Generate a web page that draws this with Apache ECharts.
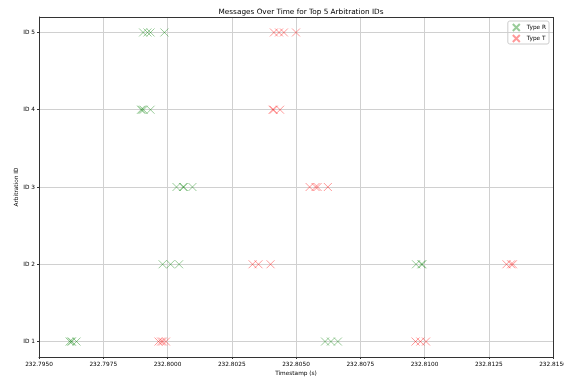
<!DOCTYPE html>
<html>
<head>
<meta charset="utf-8">
<script src="https://cdn.jsdelivr.net/npm/echarts@6/dist/echarts.min.js"></script>
<style>html,body{margin:0;padding:0;background:#fff}#c{width:564px;height:380px}</style>
</head>
<body>
<div id="c"></div>
<script>
const idLabels = ['ID 1', 'ID 2', 'ID 3', 'ID 4', 'ID 5'];
const xTicks = [232.7950, 232.7975, 232.8000, 232.8025, 232.8050, 232.8075, 232.8100, 232.8125, 232.8150];

// Timestamps per arbitration ID (index 0 -> ID 1)
const typeR = [
  [232.79619, 232.79625, 232.79628, 232.79646, 232.80613, 232.80636, 232.80663],
  [232.79981, 232.80012, 232.80045, 232.80967, 232.80988, 232.80992],
  [232.80035, 232.80060, 232.80064, 232.80097],
  [232.79897, 232.79901, 232.79907, 232.79934],
  [232.79905, 232.79922, 232.79934, 232.79988]
];
const typeT = [
  [232.79965, 232.79975, 232.79982, 232.79994, 232.80965, 232.80984, 232.81006],
  [232.80331, 232.80354, 232.80401, 232.81319, 232.81337, 232.81344],
  [232.80553, 232.80576, 232.80584, 232.80624],
  [232.80409, 232.80413, 232.80438],
  [232.80414, 232.80434, 232.80453, 232.80500]
];

function toPoints(groups) {
  const pts = [];
  groups.forEach((g, i) => g.forEach(t => pts.push([t, i + 1])));
  return pts;
}

const xSym = 'path://M0,0L10,10M10,0L0,10';
const chart = echarts.init(document.getElementById('c'), null, {renderer: 'canvas'});
const font = 'DejaVu Sans';
chart.setOption({
  animation: false,
  textStyle: {fontFamily: font},
  title: {
    text: 'Messages Over Time for Top 5 Arbitration IDs',
    left: 296, top: 4, textAlign: 'center',
    textStyle: {fontFamily: font, fontSize: 7.3, fontWeight: 'normal', color: '#000'}
  },
  legend: {
    orient: 'vertical', right: 15, top: 21,
    itemWidth: 7, itemHeight: 7, itemGap: 2,
    padding: [2, 3, 1, 4],
    borderColor: '#cccccc', borderWidth: 1, borderRadius: 2,
    textStyle: {fontFamily: font, fontSize: 5.8, color: '#000', padding: [0, 0, 0, 2]},
    data: [
      {name: 'Type R', icon: xSym},
      {name: 'Type T', icon: xSym}
    ]
  },
  grid: {left: 39, right: 11, top: 17, bottom: 23, containLabel: false, outerBoundsMode: 'none'},
  xAxis: {
    type: 'value', min: 232.795, max: 232.815,
    name: 'Timestamp (s)', nameLocation: 'middle', nameGap: 13, nameMoveOverlap: false,
    nameTextStyle: {fontFamily: font, fontSize: 5.8, color: '#000'},
    axisLine: {onZero: false, lineStyle: {color: '#333', width: 1}},
    axisTick: {show: true, length: 2, customValues: xTicks, lineStyle: {color: '#333'}},
    axisLabel: {customValues: xTicks, fontSize: 5.8, color: '#000', margin: 4,
      formatter: v => v.toFixed(4)},
    splitLine: {show: true, lineStyle: {color: '#d0d0d0', width: 1}}
  },
  yAxis: {
    type: 'value', min: 0.8, max: 5.2,
    name: 'Arbitration ID', nameLocation: 'middle', nameGap: 20, nameRotate: 90, nameMoveOverlap: false,
    nameTextStyle: {fontFamily: font, fontSize: 5.8, color: '#000'},
    axisLine: {show: true, onZero: false, lineStyle: {color: '#333', width: 1}},
    axisTick: {show: true, length: 2, customValues: [1, 2, 3, 4, 5], lineStyle: {color: '#333'}},
    axisLabel: {customValues: [1, 2, 3, 4, 5], fontSize: 5.8, color: '#000', margin: 4,
      formatter: v => idLabels[Math.round(v) - 1] || ''},
    splitLine: {show: true, lineStyle: {color: '#d0d0d0', width: 1}}
  },
  series: [
    {
      name: 'Type R', type: 'scatter', symbol: xSym, symbolSize: 8,
      itemStyle: {color: 'rgba(0,0,0,0)', borderColor: 'rgba(0,128,0,0.5)', borderWidth: 1},
      data: toPoints(typeR)
    },
    {
      name: 'Type T', type: 'scatter', symbol: xSym, symbolSize: 8,
      itemStyle: {color: 'rgba(0,0,0,0)', borderColor: 'rgba(255,0,0,0.5)', borderWidth: 1},
      data: toPoints(typeT)
    },
    {
      type: 'line', silent: true, data: [],
      markLine: {silent: true, symbol: 'none', label: {show: false},
        lineStyle: {color: '#333', width: 1, type: 'solid'},
        data: [[{coord: [232.795, 5.2]}, {coord: [232.815, 5.2]}],
               [{coord: [232.815, 0.8]}, {coord: [232.815, 5.2]}]]}
    }
  ]
});
</script>
</body>
</html>
